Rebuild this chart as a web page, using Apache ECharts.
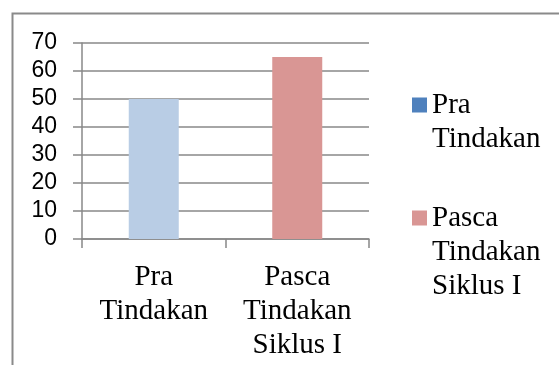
<!DOCTYPE html>
<html>
<head>
<meta charset="utf-8">
<script src="https://cdn.jsdelivr.net/npm/echarts@6/dist/echarts.min.js"></script>
<style>html,body{margin:0;padding:0;background:#fff;}#c{width:559px;height:365px;}</style>
</head>
<body>
<div id="c"></div>
<script>
var categories = ['Pra\nTindakan', 'Pasca\nTindakan\nSiklus I'];
var seriesNames = ['Pra\nTindakan', 'Pasca\nTindakan\nSiklus I'];
var praValues = [50, '-'];
var pascaValues = ['-', 65];
var yTicks = [0, 10, 20, 30, 40, 50, 60, 70];

var chart = echarts.init(document.getElementById('c'), null, {renderer: 'canvas'});
var serif = '"Liberation Serif", "Times New Roman", serif';
var sans = '"Liberation Sans", Arial, sans-serif';
var LH = 34;
function legendFor(name, color, lines, top) {
  var h = LH * lines;
  var o = (LH - 15) / 2;
  return {
    orient: 'vertical', left: 412, top: top, padding: 0,
    itemWidth: 15, itemHeight: h, itemGap: 0,
    selectedMode: false,
    icon: 'path://M15,0L15,0Z M0,' + o + 'L15,' + o + 'L15,' + (o + 15) + 'L0,' + (o + 15) + 'Z M15,' + h + 'L15,' + h + 'Z',
    data: [{name: name, itemStyle: {color: color, borderWidth: 0}}],
    textStyle: {fontFamily: serif, fontSize: 29, lineHeight: LH, color: '#000'}
  };
}
chart.setOption({
  animation: false,
  graphic: [{
    type: 'rect', silent: true, z: -10,
    shape: {x: 12.5, y: 13.5, width: 580, height: 400},
    style: {fill: 'none', stroke: '#8a8a8a', lineWidth: 2}
  }],
  grid: {left: 82, right: 190, top: 43, bottom: 126, containLabel: false},
  legend: [
    legendFor(seriesNames[0], '#4F81BD', 2, 88),
    legendFor(seriesNames[1], '#D99694', 3, 201)
  ],
  xAxis: {
    type: 'category',
    data: categories,
    axisLine: {lineStyle: {color: '#888', width: 1.5}},
    axisTick: {show: true, length: 9, lineStyle: {color: '#888', width: 1.5}},
    axisLabel: {fontFamily: serif, fontSize: 29, lineHeight: LH, color: '#000', margin: 21, interval: 0}
  },
  yAxis: {
    type: 'value', min: 0, max: 70, interval: 10,
    axisLine: {show: true, lineStyle: {color: '#888', width: 1.5}},
    axisTick: {show: true, length: 9, lineStyle: {color: '#888', width: 1.5}},
    splitLine: {lineStyle: {color: '#888', width: 1.5}},
    axisLabel: {fontFamily: sans, fontSize: 23, color: '#000', margin: 25,
      formatter: function (v) { return yTicks.indexOf(v) >= 0 ? String(v) : ''; }}
  },
  series: [
    {name: seriesNames[0], type: 'bar', stack: 'a', data: praValues, barWidth: 50,
      itemStyle: {color: '#B9CDE5'}},
    {name: seriesNames[1], type: 'bar', stack: 'a', data: pascaValues, barWidth: 50,
      itemStyle: {color: '#D99694'}}
  ]
});
</script>
</body>
</html>
